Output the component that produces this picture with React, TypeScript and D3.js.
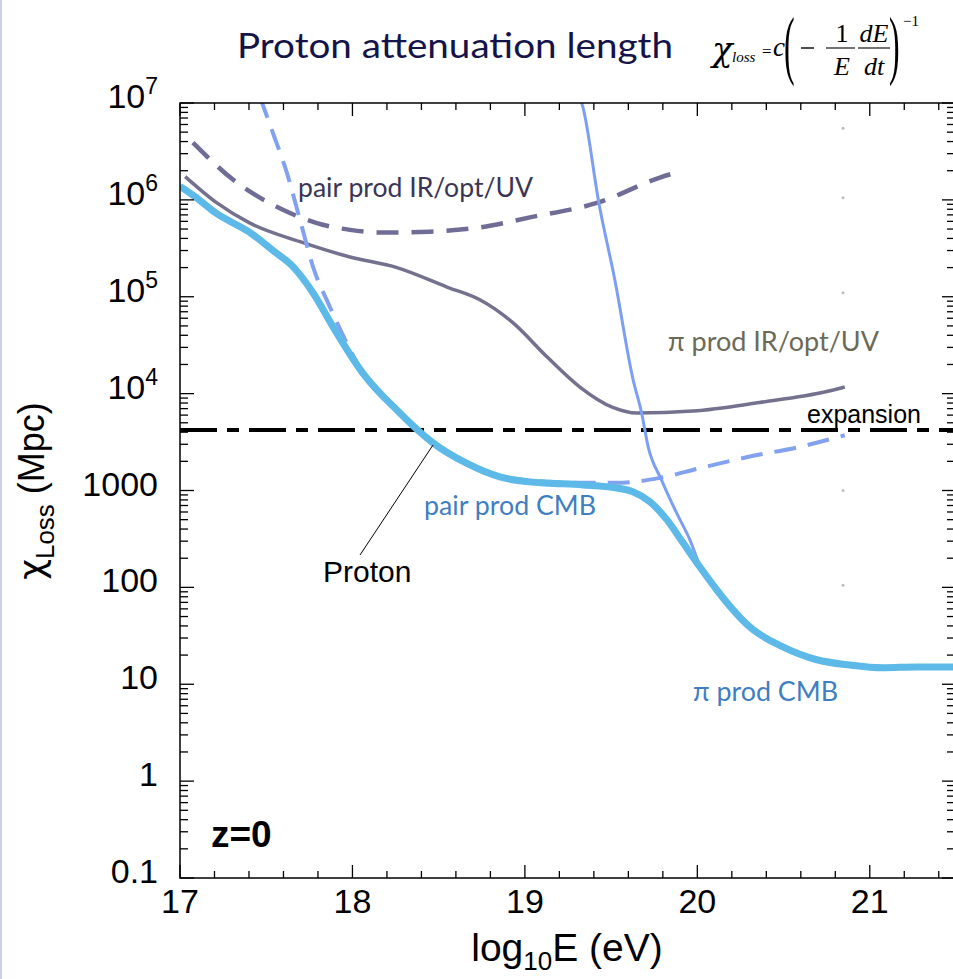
import React from 'react';
import * as d3 from 'd3';

// ---- Data (log10 E in eV, attenuation length in Mpc) ----
const totalE = [17.0, 17.075, 17.214, 17.406, 17.539, 17.655, 17.771, 17.887, 18.061, 18.275, 18.374, 18.467, 18.664, 18.855, 19.046, 19.145, 19.336, 19.533, 19.626, 19.725, 19.823, 19.916, 20.014, 20.113, 20.206, 20.304, 20.496, 20.693, 20.884, 21.075, 21.272, 21.5];
const totalChi = [1.38e6, 1.12e6, 7.2e5, 4.6e5, 3.0e5, 2.05e5, 1.1e5, 4.9e4, 1.62e4, 6300, 4270, 3100, 1900, 1380, 1220, 1190, 1140, 1060, 970, 765, 500, 290, 163, 94, 59, 39, 24.3, 17.9, 15.8, 14.8, 15.1, 15.1];

const pairCmbE = [17.464, 17.539, 17.62, 17.696, 17.771, 17.87, 17.968, 18.061, 18.275, 18.374, 18.467, 18.664, 18.855, 19.145, 19.336, 19.533, 19.783, 20.014, 20.304, 20.594, 20.855];
const pairCmbChi = [1.15e7, 4.9e6, 1.9e6, 6.2e5, 2.05e5, 7.8e4, 3.3e4, 1.62e4, 6300, 4270, 3100, 1900, 1410, 1230, 1200, 1200, 1350, 1700, 2240, 2820, 3720];

const piCmbE = [19.318, 19.336, 19.429, 19.522, 19.628, 19.677, 19.715, 19.792, 19.879, 19.957, 20.014, 20.113, 20.206, 20.304, 20.496, 20.693, 20.884, 21.075, 21.272, 21.5];
const piCmbChi = [1.15e7, 9.1e6, 9.3e5, 1.48e5, 1.38e4, 6300, 2820, 1290, 590, 309, 170, 96, 60, 39.5, 24.3, 17.9, 15.8, 14.8, 15.1, 15.1];

const piIrE = [17.03, 17.214, 17.406, 17.696, 17.986, 18.258, 18.548, 18.739, 18.93, 19.128, 19.319, 19.51, 19.649, 19.974, 20.362, 20.751, 20.855];
const piIrChi = [1.74e6, 9.3e5, 5.75e5, 3.7e5, 2.57e5, 2.0e5, 1.26e5, 9.3e4, 5.4e4, 2.4e4, 1.17e4, 7200, 6300, 6600, 8100, 1.05e4, 1.17e4];

const pairIrE = [17.075, 17.307, 17.597, 17.794, 17.986, 18.159, 18.449, 18.739, 19.029, 19.417, 19.783, 19.852];
const pairIrChi = [3.9e6, 1.62e6, 7.9e5, 5.75e5, 4.9e5, 4.6e5, 4.7e5, 5.2e5, 6.6e5, 9.3e5, 1.7e6, 1.86e6];

const expansionChi = 4200;

const xMajor = [17, 18, 19, 20, 21];
const xMajorLabels = ['17', '18', '19', '20', '21'];
const yMajor = [0.1, 1, 10, 100, 1000, 1e4, 1e5, 1e6, 1e7];
const yMajorLabels = ['0.1', '1', '10', '100', '1000', '10^4', '10^5', '10^6', '10^7'];
const artifactDots = [5.5e6, 1.05e6, 1.1e5, 1000, 105];

const W = 953;
const H = 979;
const PL = 180, PR = 956, PT = 103, PB = 878;

const ARIAL = "'Liberation Sans', Arial, Helvetica, sans-serif";
const CALIBRI = "Lato, 'Open Sans', sans-serif";
const TIMES = "'Liberation Serif', 'Times New Roman', serif";

export default function App() {
  const x = d3.scaleLinear().domain([17, 21.5]).range([PL, PR]);
  const y = d3.scaleLog().domain([0.1, 1e7]).range([PB, PT]);

  const mk = (E: number[], C: number[]) =>
    d3
      .line<number>()
      .x((_, i) => x(E[i]))
      .y((_, i) => y(C[i]))
      .curve(d3.curveMonotoneX)(E) as string;

  const xMinor: number[] = [];
  for (let i = 0; i <= 22; i++) if (i % 5 !== 0) xMinor.push(17 + 0.2 * i);
  const yMinor: number[] = [];
  for (let e = -1; e < 7; e++) for (let k = 2; k <= 9; k++) yMinor.push(k * Math.pow(10, e));

  const majLen = 13;
  const minLen = 7;

  return (
    <svg
      width={W}
      height={H}
      viewBox={`0 0 ${W} ${H}`}
      style={{ position: 'absolute', left: 0, top: 0, background: '#fff' }}
    >
      <rect x={0} y={0} width={W} height={H} fill="#fff" />
      <rect x={0} y={0} width={2} height={H} fill="#c9d1ea" />
      <defs>
        <clipPath id="plotclip">
          <rect x={PL} y={PT} width={PR - PL} height={PB - PT} />
        </clipPath>
      </defs>

      {/* Title */}
      <text x={237} y={58} fontFamily={CALIBRI} fontSize={35} fill="#14144a" textLength={436} lengthAdjust="spacingAndGlyphs">
        Proton attenuation length
      </text>

      {/* Formula */}
      <g fontFamily={TIMES} fontStyle="italic" fill="#000">
        <text x={712} y={61} fontSize={34} fontFamily="'DejaVu Serif', serif">χ</text>
        <text x={732} y={62} fontSize={15}>loss</text>
        <text x={762} y={57} fontSize={17} fontStyle="normal">=</text>
        <text x={773} y={56} fontSize={27}>c</text>
        <text transform="translate(784,70) scale(0.42,1)" fontSize={76} fontStyle="normal">(</text>
        <line x1={801} x2={814} y1={48} y2={48} stroke="#000" strokeWidth={1.4} />
        <line x1={826} x2={855} y1={48} y2={48} stroke="#000" strokeWidth={1.1} />
        <text x={842} y={42} fontSize={26} fontStyle="normal" textAnchor="middle">1</text>
        <text x={842} y={75} fontSize={26} textAnchor="middle">E</text>
        <line x1={858} x2={890} y1={48} y2={48} stroke="#000" strokeWidth={1.1} />
        <text x={874} y={42} fontSize={26} textAnchor="middle">dE</text>
        <text x={874} y={75} fontSize={26} textAnchor="middle">dt</text>
        <text transform="translate(889,70) scale(0.42,1)" fontSize={76} fontStyle="normal">)</text>
        <text x={903} y={26} fontSize={15} fontStyle="normal">−1</text>
      </g>

      {/* Curves */}
      <g clipPath="url(#plotclip)" fill="none" strokeLinecap="butt">
        <line
          x1={PL}
          x2={PR}
          y1={y(expansionChi)}
          y2={y(expansionChi)}
          stroke="#000"
          strokeWidth={4}
          strokeDasharray="37,10,12,10"
        />
        <path d={mk(pairIrE, pairIrChi)} stroke="#6f6c96" strokeWidth={4.5} strokeDasharray="22,13" />
        <path d={mk(piIrE, piIrChi)} stroke="#74718f" strokeWidth={3.5} />
        <path d={mk(pairCmbE, pairCmbChi)} stroke="#82a2f0" strokeWidth={4} strokeDasharray="22,12" />
        <path d={mk(piCmbE, piCmbChi)} stroke="#7c9ff2" strokeWidth={3} />
        <path d={mk(totalE, totalChi)} stroke="#5cb9e8" strokeWidth={7} strokeLinejoin="round" />
      </g>

      {artifactDots.map((v, i) => (
        <circle key={i} cx={843} cy={y(v)} r={1.5} fill="#bdbdbd" />
      ))}

      {/* Frame */}
      <rect x={PL} y={PT} width={PR - PL} height={PB - PT} fill="none" stroke="#000" strokeWidth={1.5} />

      {/* Ticks */}
      <g stroke="#000" strokeWidth={1.3}>
        {xMajor.map((v) => (
          <g key={'xm' + v}>
            <line x1={x(v)} x2={x(v)} y1={PB} y2={PB - majLen} />
            <line x1={x(v)} x2={x(v)} y1={PT} y2={PT + majLen} />
          </g>
        ))}
        {xMinor.map((v) => (
          <g key={'xn' + v}>
            <line x1={x(v)} x2={x(v)} y1={PB} y2={PB - minLen} />
            <line x1={x(v)} x2={x(v)} y1={PT} y2={PT + minLen} />
          </g>
        ))}
        {yMajor.map((v) => (
          <g key={'ym' + v}>
            <line x1={PL} x2={PL + 14} y1={y(v)} y2={y(v)} />
            <line x1={PR} x2={PR - 14} y1={y(v)} y2={y(v)} />
          </g>
        ))}
        {yMinor.map((v) => (
          <g key={'yn' + v}>
            <line x1={PL} x2={PL + 8} y1={y(v)} y2={y(v)} />
            <line x1={PR} x2={PR - 9} y1={y(v)} y2={y(v)} />
          </g>
        ))}
      </g>

      {/* Tick labels */}
      <g fontFamily={ARIAL} fontSize={34} fill="#000">
        {xMajor.map((v, i) => (
          <text key={'xl' + v} x={x(v)} y={913} textAnchor="middle">
            {xMajorLabels[i]}
          </text>
        ))}
        {yMajor.map((v, i) => {
          const lab = yMajorLabels[i];
          const yy = y(v) + 5;
          if (lab.includes('^')) {
            const [b, e] = lab.split('^');
            return (
              <text key={'yl' + v} x={158} y={yy} textAnchor="end">
                {b}
                <tspan fontSize={23} dy={-14}>{e}</tspan>
              </text>
            );
          }
          return (
            <text key={'yl' + v} x={158} y={yy} textAnchor="end">
              {lab}
            </text>
          );
        })}
      </g>

      {/* Axis titles */}
      <text x={567} y={961} textAnchor="middle" fontFamily={ARIAL} fontSize={39} fill="#000">
        log<tspan fontSize={26} dy={9}>10</tspan>
        <tspan dy={-9}>E (eV)</tspan>
      </text>
      <text
        transform="translate(44,491) rotate(-90)"
        textAnchor="middle"
        fontFamily={ARIAL}
        fontSize={36}
        fill="#000"
      >
        <tspan fontFamily="'DejaVu Sans', sans-serif">χ</tspan>
        <tspan fontSize={26} dy={10}>Loss</tspan>
        <tspan dy={-10}> (Mpc)</tspan>
      </text>

      {/* Curve labels */}
      <g fontFamily={CALIBRI} fontSize={27}>
        <text x={298} y={197} fill="#3b3555" textLength={235} lengthAdjust="spacingAndGlyphs">
          pair prod IR/opt/UV
        </text>
        <text x={668} y={351} fill="#6b6a58" textLength={211} lengthAdjust="spacingAndGlyphs">
          π prod IR/opt/UV
        </text>
        <text x={424} y={515} fill="#3f7fc1" textLength={172} lengthAdjust="spacingAndGlyphs">
          pair prod CMB
        </text>
        <text x={693} y={701} fill="#3f7fc1" textLength={145} lengthAdjust="spacingAndGlyphs">
          π prod CMB
        </text>
      </g>

      <text x={807} y={423} fontFamily={ARIAL} fontSize={25} fill="#000">
        expansion
      </text>

      <line x1={360} y1={555} x2={433} y2={445} stroke="#000" strokeWidth={1} />
      <text x={323} y={582} fontFamily={ARIAL} fontSize={30} fill="#000">
        Proton
      </text>
      <text x={211} y={847} fontFamily={ARIAL} fontSize={37} fontWeight="bold" fill="#000">
        z=0
      </text>
    </svg>
  );
}
